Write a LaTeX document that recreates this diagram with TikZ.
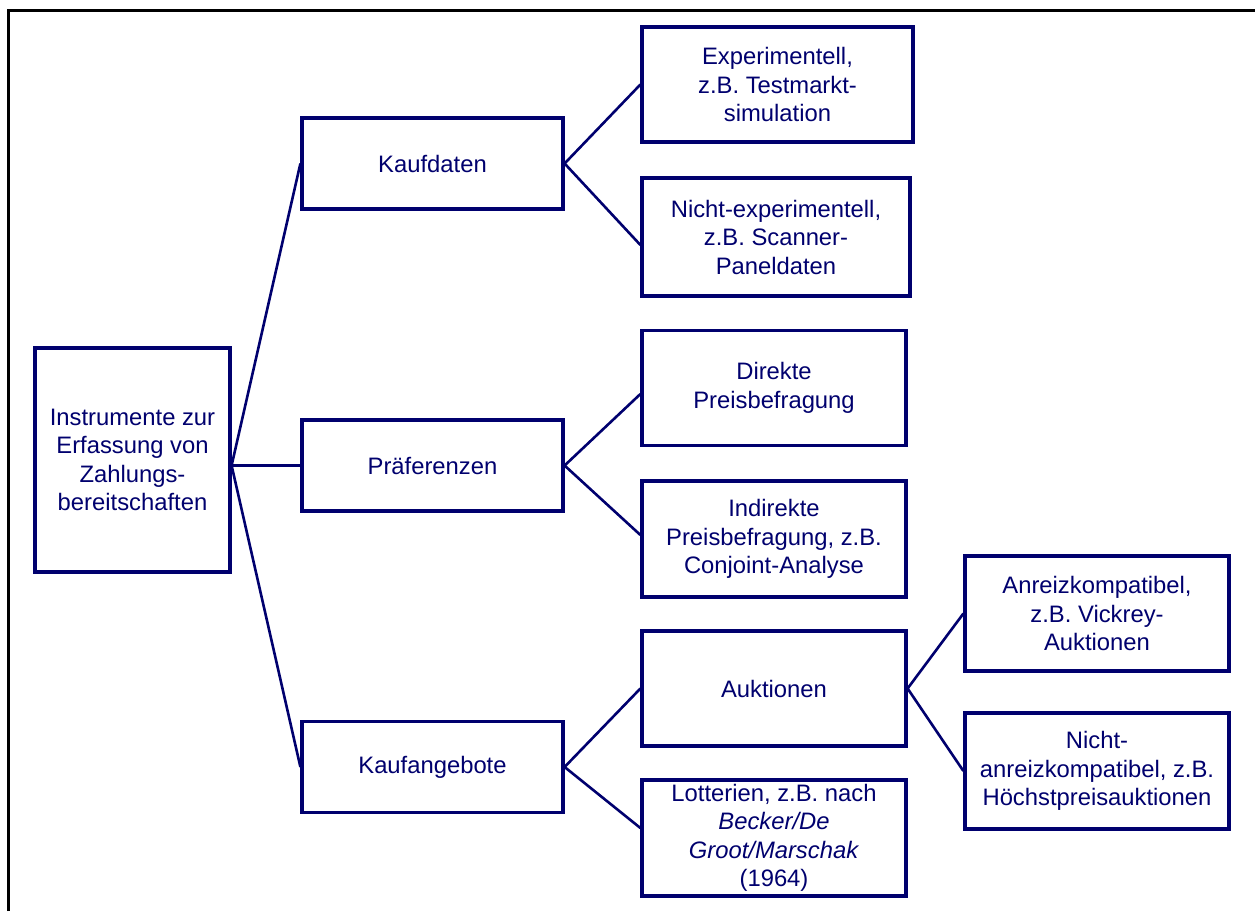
\documentclass[tikz,border=0pt]{standalone}
\usepackage{fontspec}
\setmainfont{Liberation Sans}
\definecolor{navy}{RGB}{0,0,110}
\begin{document}
\begin{tikzpicture}[x=1pt,y=-1pt,
  box/.style={draw=navy, line width=3.2pt, rectangle, inner sep=0pt, align=center,
    text=navy, fill=white, font=\fontsize{23.8}{28.5}\selectfont},
  lvl/.style={box, minimum width=261pt, minimum height=91pt},
  leaf/.style={box, minimum width=264pt, minimum height=115pt},
  link/.style={draw=navy, line width=2.6pt}]
\useasboundingbox (0,0) rectangle (1255,911);
% outer frame
\draw[black, line width=3pt] (8,911) -- (8,10) -- (1255,10);

% root
\node[box, minimum width=195pt, minimum height=224pt] (root) at (132.5,460)
  {Instrumente zur\\Erfassung von\\Zahlungs-\\bereitschaften};

% first level
\node[lvl] (kauf) at (432.5,163.5) {Kaufdaten};
\node[lvl] (pref) at (432.5,465.5) {Präferenzen};
\node[lvl] (gebot) at (432.5,767) {Kaufangebote};

% second level
\node[leaf, minimum width=271pt] (exp) at (777.5,84.5) {Experimentell,\\z.B. Testmarkt-\\simulation};
\node[leaf, minimum width=268pt, minimum height=118pt] (nexp) at (776,237) {Nicht-experimentell,\\z.B. Scanner-\\Paneldaten};
\node[leaf] (dir) at (774,388) {Direkte\\Preisbefragung};
\node[leaf, minimum height=116pt] (indir) at (774,539) {Indirekte\\Preisbefragung, z.B.\\Conjoint-Analyse};
\node[leaf] (auk) at (774,688.5) {Auktionen};
\node[leaf, minimum height=116pt] (lot) at (774,838)
  {Lotterien, z.B. nach\\\textit{Becker/De}\\\textit{Groot/Marschak}\\(1964)};

% third level
\node[leaf] (anr) at (1097,613.5) {Anreizkompatibel,\\z.B. Vickrey-\\Auktionen};
\node[leaf, minimum height=116pt] (nanr) at (1097,771) {Nicht-\\anreizkompatibel, z.B.\\Höchstpreisauktionen};

% connectors
\coordinate (fork) at (pref.west -| root.east);
\draw[link] (fork) -- (kauf.west);
\draw[link] (fork) -- (pref.west);
\draw[link] (fork) -- (gebot.west);
\draw[link] (kauf.east) -- (exp.west);
\draw[link] (kauf.east) -- ([yshift=-8pt]nexp.west);
\draw[link] (pref.east) -- ([yshift=-6pt]dir.west);
\draw[link] (pref.east) -- ([yshift=4pt]indir.west);
\draw[link] (gebot.east) -- (auk.west);
\draw[link] (gebot.east) -- ([yshift=10pt]lot.west);
\draw[link] (auk.east) -- (anr.west);
\draw[link] (auk.east) -- (nanr.west);
\end{tikzpicture}
\end{document}
